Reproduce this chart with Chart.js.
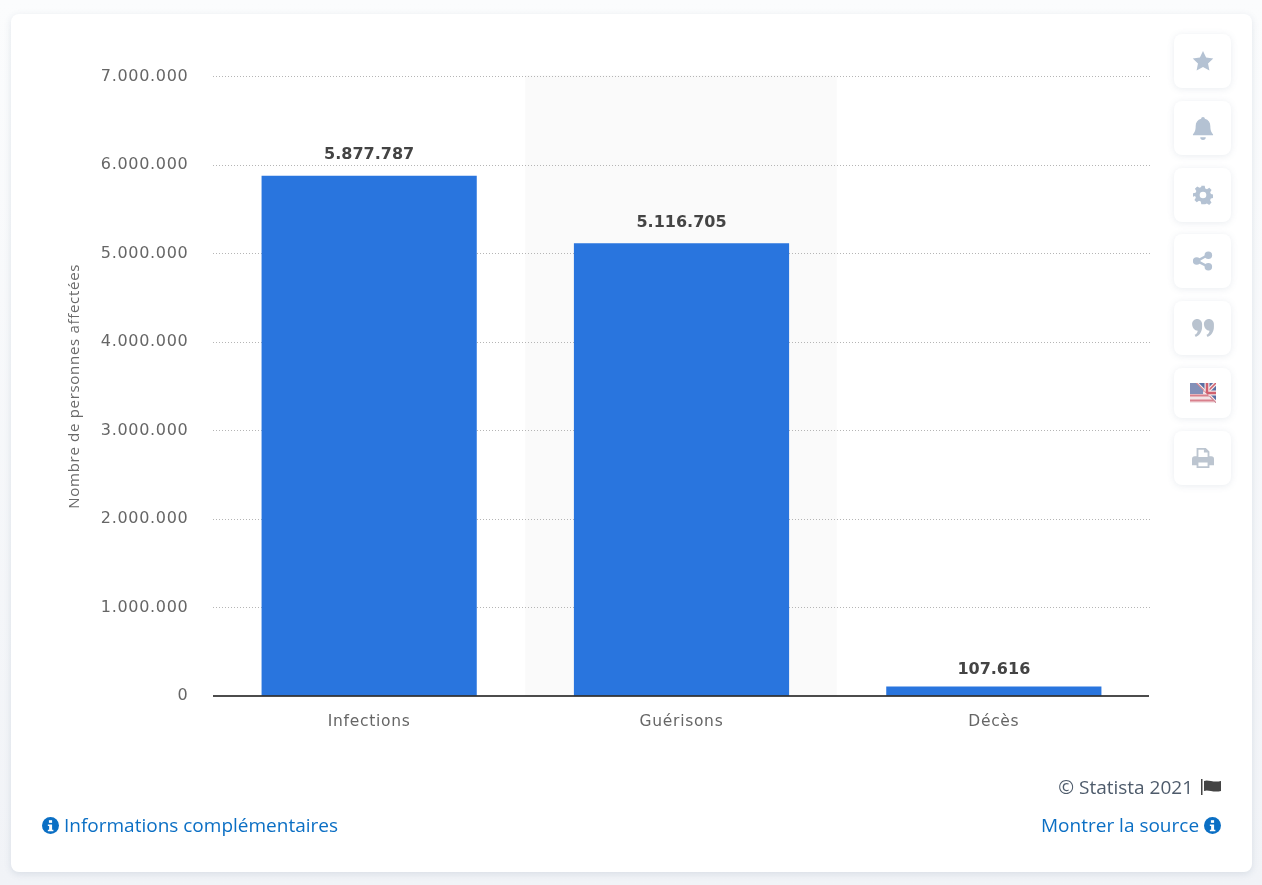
<!DOCTYPE html>
<html lang="fr">
<head>
<meta charset="utf-8">
<title>Statista</title>
<script src="https://cdn.jsdelivr.net/npm/chart.js@4/dist/chart.umd.min.js"></script>
<style>
html, body { margin: 0; padding: 0; width: 1262px; height: 885px; overflow: hidden; background: linear-gradient(#fbfcfd, #f1f3f7); }
#card { position: absolute; left: 11px; top: 14px; width: 1241px; height: 858px; background: #fff; border-radius: 8px; box-shadow: 0 2px 7px rgba(90,110,140,.16); }
#wrap { position: absolute; left: 0; top: 0; width: 1262px; height: 885px; }
.btn { position: absolute; left: 1174px; width: 57px; height: 54px; background: #fff; border-radius: 8px; box-shadow: 0 1px 7px rgba(100,120,150,.14); display: flex; align-items: center; justify-content: center; }
.foot { position: absolute; font-family: "Open Sans", sans-serif; font-size: 19px; white-space: nowrap; line-height: 24px; }
.link { color: #0b6fc4; }
.foot svg { vertical-align: -2px; }
</style>
</head>
<body>
<div id="card"></div>
<div id="wrap"><canvas id="myChart" width="1262" height="885"></canvas></div>

<div class="btn" style="top:34px"><svg width="22" height="22" viewBox="0 0 24 24"><path fill="#b4c2d3" d="M12 1l3.400 7.200 7.800 1-5.700 5.400 1.500 7.800-7-3.900-7 3.900 1.500-7.800L.8 9.200l7.800-1z"/></svg></div>
<div class="btn" style="top:101px"><svg width="22" height="24" viewBox="0 0 24 26"><path fill="#b4c2d3" d="M12 1c1.200 0 2 .8 2 2 4 1 6 4 6 8 0 5 1.500 7 3 9v1H1v-1c1.500-2 3-4 3-9 0-4 2-7 6-8 0-1.200.8-2 2-2zM9 23h6a3 3 0 0 1-6 0z"/></svg></div>
<div class="btn" style="top:168px"><svg width="20" height="20" viewBox="0 0 24 24"><path fill="#b4c2d3" fill-rule="evenodd" d="M10 1h4l.7 3.100 2.100.9 2.700-1.700 2.800 2.800-1.700 2.700.9 2.100 3 .7v4l-3.100.7-.9 2.100 1.700 2.700-2.800 2.800-2.700-1.700-2.100.9L14 23h-4l-.7-3.100-2.100-.9-2.700 1.700-2.800-2.800 1.700-2.700-.9-2.100L0 14v-4l3.100-.7.9-2.100-1.700-2.700 2.800-2.800 2.700 1.700 2.100-.9zM12 8a4 4 0 1 0 0 8 4 4 0 0 0 0-8z"/></svg></div>
<div class="btn" style="top:234px"><svg width="21" height="20" viewBox="0 0 24 24"><g fill="#b4c2d3"><circle cx="19" cy="5" r="4.500"/><circle cx="19" cy="19" r="4.500"/><circle cx="5" cy="12" r="4.500"/><path d="M5 10.500L18 3.500l1 2.500L6 13.500zM6 10.500l13 7-1 2.500L5 13.500z"/></g></svg></div>
<div class="btn" style="top:301px"><svg width="22" height="20" viewBox="0 0 24 22"><path fill="#b9c3cf" d="M5.500 1C8.500 1 11 3.500 11 6.500V10c0 5-3 9.500-7 11l-1.200-2.500c2-1 3.200-2.700 3.400-4.600C2.800 13.800 0 10.500 0 6.500 0 3.500 2.500 1 5.500 1zM18.500 1C21.500 1 24 3.500 24 6.500V10c0 5-3 9.500-7 11l-1.200-2.500c2-1 3.200-2.700 3.400-4.600-3.400-.1-6.200-3.400-6.200-7.400 0-3 2.500-5.500 5.500-5.500z"/></svg></div>
<div class="btn" style="top:368px;height:50px"><svg width="26" height="20" viewBox="0 0 26 20"><defs><clipPath id="uk"><path d="M26 0H6L26 20z"/></clipPath></defs><rect width="26" height="20" fill="#f3e4e6"/><path d="M0 2.500h26M0 7.500h26M0 12.500h26M0 17.500h26" stroke="#d9808c" stroke-width="2.200"/><rect width="13" height="11" fill="#8390b8"/><g clip-path="url(#uk)"><rect width="26" height="20" fill="#5a6ea3"/><path d="M6 0l20 20M26 0L6 20" stroke="#f2e6e8" stroke-width="4"/><path d="M6 0l20 20M26 0L6 20" stroke="#d0606e" stroke-width="1.500"/><path d="M17 0v20M4 10h22" stroke="#f2e6e8" stroke-width="5"/><path d="M17 0v20M4 10h22" stroke="#d0606e" stroke-width="2.500"/></g></svg></div>
<div class="btn" style="top:431px"><svg width="22" height="22" viewBox="0 0 24 24"><path fill="#bcc5d0" fill-rule="evenodd" d="M5 1h10l4 4v5h2q3 0 3 3v7h-5v3H5v-3H0v-7q0-3 3-3h2zm2 2v8h10V6h-4V3zM7 17v4h10v-4z"/></svg></div>

<div class="foot" style="right:41px;top:775px;color:#4e5b6b">© Statista 2021 <svg width="20" height="16" viewBox="0 0 20 16" style="vertical-align:-1px;margin-left:3px"><path fill="#444" d="M0 0h1.500v16H0zM3 2c4-2 9 2 17 0v10c-8 2-13-2-17 0z"/></svg></div>
<div class="foot link" style="left:42px;top:813px"><svg width="17" height="17" viewBox="0 0 16 16"><circle cx="8" cy="8" r="8" fill="#0b6fc4"/><rect x="6.500" y="3" width="3" height="2.500" fill="#fff"/><path fill="#fff" d="M5.500 7h4v5h1.200v1.500H5.500V12h1.200V8.500H5.500z"/></svg> Informations complémentaires</div>
<div class="foot link" style="right:41px;top:813px">Montrer la source <svg width="17" height="17" viewBox="0 0 16 16"><circle cx="8" cy="8" r="8" fill="#0b6fc4"/><rect x="6.500" y="3" width="3" height="2.500" fill="#fff"/><path fill="#fff" d="M5.500 7h4v5h1.200v1.500H5.500V12h1.200V8.500H5.500z"/></svg></div>

<script>
const categories = ['Infections', 'Guérisons', 'Décès'];
const values = [5877787, 5116705, 107616];
const yTicks = [0, 1000000, 2000000, 3000000, 4000000, 5000000, 6000000, 7000000];
const yTitle = 'Nombre de personnes affectées';
const highlighted = 1; // colonne grisée

function fmt(n) {
    return String(n).replace(/\B(?=(\d{3})+$)/g, '.');
}

// bande grise derriere la 2e colonne, sous la grille
const bandPlugin = {
    id: 'band',
    beforeDraw(chart) {
        const x = chart.scales.x, a = chart.chartArea;
        const w = x.width / categories.length;
        const c = x.getPixelForValue(highlighted);
        chart.ctx.letterSpacing = '0.7px';
        chart.ctx.save();
        chart.ctx.fillStyle = '#fafafa';
        chart.ctx.fillRect(c - w / 2, a.top - 1, w - 1, a.bottom - a.top + 1);
        chart.ctx.restore();
    }
};

// ligne de base + valeurs au dessus des barres
const labelPlugin = {
    id: 'labels',
    afterDatasetsDraw(chart) {
        const ctx = chart.ctx, a = chart.chartArea;
        const y0 = chart.scales.y.getPixelForValue(0);
        ctx.save();
        ctx.strokeStyle = '#111';
        ctx.lineWidth = 1.3;
        ctx.beginPath();
        ctx.moveTo(a.left, y0);
        ctx.lineTo(a.right - 1, y0);
        ctx.stroke();
        ctx.letterSpacing = '0px';
        ctx.font = 'bold 16px "DejaVu Sans"';
        ctx.fillStyle = '#444';
        ctx.textAlign = 'center';
        ctx.textBaseline = 'alphabetic';
        chart.getDatasetMeta(0).data.forEach((bar, i) => {
            // la petite barre a son etiquette plus pres
            const gap = y0 - bar.y < 30 ? 12 : 16.5;
            ctx.fillText(fmt(values[i]), bar.x, bar.y - gap);
        });
        ctx.restore();
    }
};

new Chart(document.getElementById('myChart'), {
    type: 'bar',
    data: {
        labels: categories,
        datasets: [{
            data: values,
            backgroundColor: '#2975de',
            barPercentage: 0.689,
            categoryPercentage: 1
        }]
    },
    options: {
        responsive: false,
        animation: false,
        devicePixelRatio: 1,
        layout: { padding: { left: 0, top: 76.5, right: 112, bottom: 0 } },
        plugins: { legend: { display: false }, tooltip: { enabled: false } },
        scales: {
            x: {
                afterFit(s) { s.height = 189; },
                grid: { display: false },
                border: { display: false },
                ticks: {
                    color: '#666',
                    padding: 9,
                    maxRotation: 0,
                    font: { family: 'DejaVu Sans', size: 15.5 }
                }
            },
            y: {
                min: 0,
                max: 7000000,
                afterFit(s) { s.width = 213; },
                afterBuildTicks(s) { s.ticks = yTicks.map(v => ({ value: v })); },
                border: { display: false, dash: [1, 2] },
                grid: {
                    color: c => c.tick.value === 0 ? 'transparent' : '#b5b5b5',
                    lineWidth: 1,
                    drawTicks: false
                },
                ticks: {
                    color: '#666',
                    padding: 24.5,
                    font: { family: 'DejaVu Sans', size: 16 },
                    callback: v => fmt(v)
                },
                title: {
                    display: true,
                    text: yTitle,
                    color: '#6a6a6a',
                    padding: { top: 66, bottom: 0 },
                    font: { family: 'Open Sans', size: 15 }
                }
            }
        }
    },
    plugins: [bandPlugin, labelPlugin]
});
</script>
</body>
</html>
